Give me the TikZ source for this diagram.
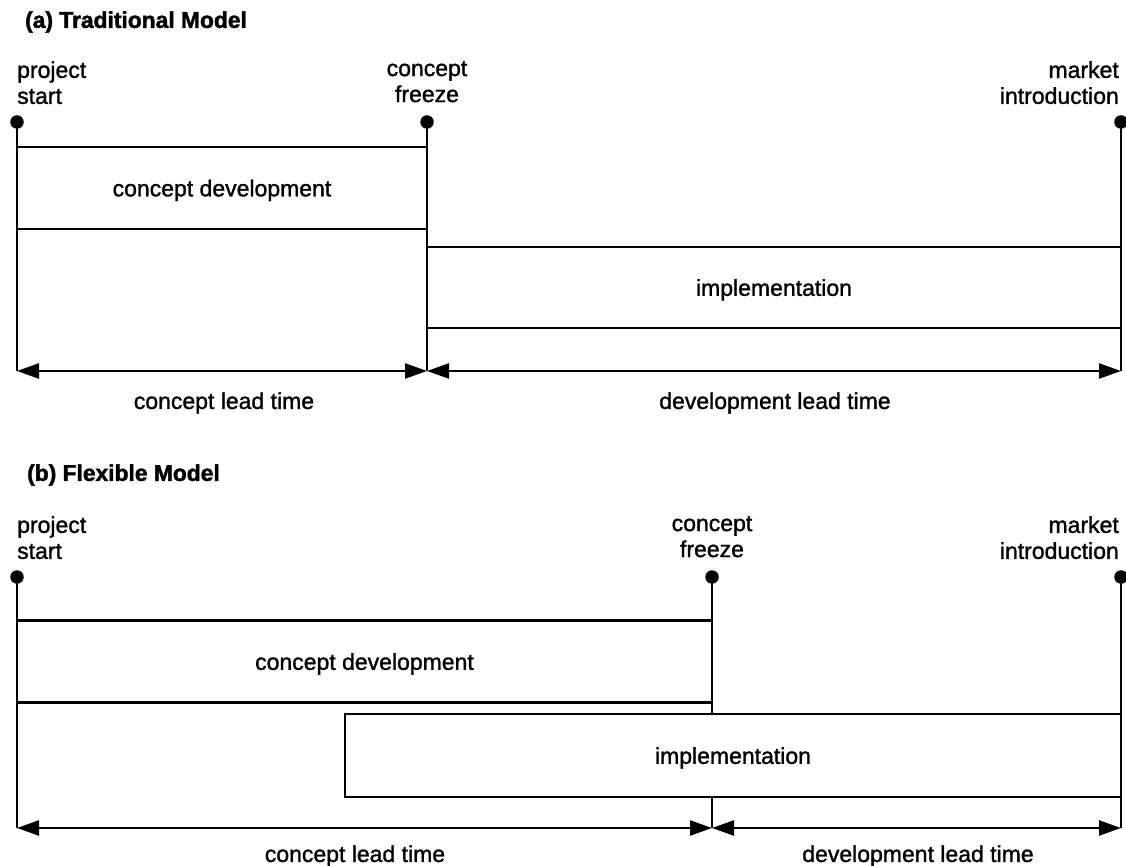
\documentclass[tikz,border=0pt]{standalone}
\usepackage{fontspec}
\setmainfont{Liberation Sans}[UprightFeatures={FakeBold=1.3}]
\newfontfamily\heavyfont{Liberation Sans}[UprightFont=*-Bold, UprightFeatures={FakeBold=1.8}]
\usetikzlibrary{arrows.meta}
\begin{document}
\begin{tikzpicture}[x=1pt,y=-1pt,
  lbl/.style={inner sep=0pt, font=\fontsize{23}{26}\selectfont},
  ttl/.style={inner sep=0pt, anchor=west, font=\fontsize{22.8}{26}\selectfont\heavyfont},
  phase/.style={draw, line width=2.6pt, fill=white, inner sep=0pt, text depth=0pt,
                font=\fontsize{23}{26}\selectfont},
  milestone/.style={circle, fill=black, inner sep=0pt, minimum size=13.5pt},
  tline/.style={line width=2.4pt},
  span/.style={line width=2.4pt, {Triangle[length=22pt,width=15pt]}-{Triangle[length=22pt,width=15pt]}}]
\useasboundingbox (0,0) rectangle (1126,866);

% ---------- (a) traditional model ----------
\node[ttl] (ta) at (25,22) {(a) Traditional Model};

\node[lbl, anchor=north west, align=left] (psAl) at (17,61) {project\\start};
\node[lbl, anchor=north, align=center] (cfAl) at (427,61) {concept\\freeze};
\node[lbl, anchor=north east, align=right] (miAl) at (1119,61) {market\\introduction};

\node[milestone] (psA) at (17,122) {};
\node[milestone] (cfA) at (427,122) {};
\node[milestone] (miA) at (1121,122) {};
\coordinate (psAb) at (17,371);
\coordinate (cfAb) at (427,371);
\coordinate (miAb) at (1121,371);

\draw[tline] (psA.center) -- (psAb);
\draw[tline] (cfA.center) -- (cfAb);
\draw[tline] (miA.center) -- (miAb);

\node[phase, minimum width=410pt, minimum height=82pt] (cdA) at (222,188) {concept development};
\node[phase, minimum width=694pt, minimum height=81pt] (imA) at (774,287.5) {implementation};

\draw[span] (psAb) -- (cfAb);
\draw[span] (cfAb) -- (miAb);

\node[lbl] (cltA) at (224,403) {concept lead time};
\node[lbl] (dltA) at (775,403) {development lead time};

% ---------- (b) flexible model ----------
\node[ttl] (tb) at (27,475) {(b) Flexible Model};

\node[lbl, anchor=north west, align=left] (psBl) at (17,516) {project\\start};
\node[lbl, anchor=north, align=center] (cfBl) at (712,516) {concept\\freeze};
\node[lbl, anchor=north east, align=right] (miBl) at (1119,516) {market\\introduction};

\node[milestone] (psB) at (17,577) {};
\node[milestone] (cfB) at (712,577) {};
\node[milestone] (miB) at (1121,577) {};
\coordinate (psBb) at (17,828);
\coordinate (cfBb) at (712,828);
\coordinate (miBb) at (1121,828);

\draw[tline] (psB.center) -- (psBb);
\draw[tline] (cfB.center) -- (cfBb);
\draw[tline] (miB.center) -- (miBb);

\node[phase, minimum width=695pt, minimum height=82pt] (cdB) at (364.5,661.5) {concept development};
\node[phase, minimum width=776pt, minimum height=83pt] (imB) at (733,755.5) {implementation};

\draw[span] (psBb) -- (cfBb);
\draw[span] (cfBb) -- (miBb);

\node[lbl] (cltB) at (355,856) {concept lead time};
\node[lbl] (dltB) at (918,856) {development lead time};
\end{tikzpicture}
\end{document}
